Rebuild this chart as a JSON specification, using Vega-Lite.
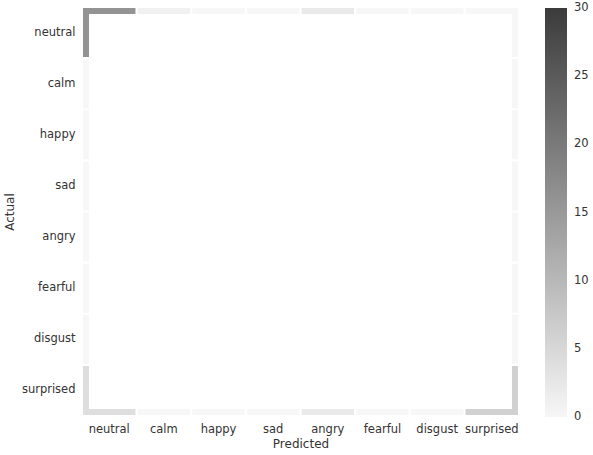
{
  "$schema": "https://vega.github.io/schema/vega-lite/v6.json",
  "width": 435,
  "height": 407,
  "autosize": "none",
  "padding": {"left": 83, "top": 8, "right": 75, "bottom": 40},
  "background": "white",
  "config": {
    "view": {"stroke": null},
    "font": "DejaVu Sans",
    "axis": {
      "domain": false,
      "ticks": false,
      "grid": false,
      "labelFont": "DejaVu Sans",
      "labelFontSize": 11.5,
      "labelColor": "#333333",
      "titleFont": "DejaVu Sans",
      "titleFontSize": 12,
      "titleFontWeight": "normal",
      "titleColor": "#333333",
      "labelPadding": 8
    },
    "legend": {
      "labelFont": "DejaVu Sans",
      "labelFontSize": 11.5,
      "labelColor": "#333333"
    }
  },
  "data": {
    "values": [
      {"Actual": "neutral", "Predicted": "neutral", "count": 16},
      {"Actual": "neutral", "Predicted": "calm", "count": 1},
      {"Actual": "neutral", "Predicted": "happy", "count": 0},
      {"Actual": "neutral", "Predicted": "sad", "count": 0},
      {"Actual": "neutral", "Predicted": "angry", "count": 2},
      {"Actual": "neutral", "Predicted": "fearful", "count": 0},
      {"Actual": "neutral", "Predicted": "disgust", "count": 0},
      {"Actual": "neutral", "Predicted": "surprised", "count": 0},
      {"Actual": "calm", "Predicted": "neutral", "count": 0},
      {"Actual": "calm", "Predicted": "calm", "count": 30},
      {"Actual": "calm", "Predicted": "happy", "count": 1},
      {"Actual": "calm", "Predicted": "sad", "count": 2},
      {"Actual": "calm", "Predicted": "angry", "count": 0},
      {"Actual": "calm", "Predicted": "fearful", "count": 1},
      {"Actual": "calm", "Predicted": "disgust", "count": 0},
      {"Actual": "calm", "Predicted": "surprised", "count": 0},
      {"Actual": "happy", "Predicted": "neutral", "count": 0},
      {"Actual": "happy", "Predicted": "calm", "count": 2},
      {"Actual": "happy", "Predicted": "happy", "count": 20},
      {"Actual": "happy", "Predicted": "sad", "count": 3},
      {"Actual": "happy", "Predicted": "angry", "count": 2},
      {"Actual": "happy", "Predicted": "fearful", "count": 1},
      {"Actual": "happy", "Predicted": "disgust", "count": 1},
      {"Actual": "happy", "Predicted": "surprised", "count": 0},
      {"Actual": "sad", "Predicted": "neutral", "count": 0},
      {"Actual": "sad", "Predicted": "calm", "count": 4},
      {"Actual": "sad", "Predicted": "happy", "count": 2},
      {"Actual": "sad", "Predicted": "sad", "count": 18},
      {"Actual": "sad", "Predicted": "angry", "count": 1},
      {"Actual": "sad", "Predicted": "fearful", "count": 3},
      {"Actual": "sad", "Predicted": "disgust", "count": 1},
      {"Actual": "sad", "Predicted": "surprised", "count": 0},
      {"Actual": "angry", "Predicted": "neutral", "count": 0},
      {"Actual": "angry", "Predicted": "calm", "count": 0},
      {"Actual": "angry", "Predicted": "happy", "count": 2},
      {"Actual": "angry", "Predicted": "sad", "count": 1},
      {"Actual": "angry", "Predicted": "angry", "count": 24},
      {"Actual": "angry", "Predicted": "fearful", "count": 1},
      {"Actual": "angry", "Predicted": "disgust", "count": 2},
      {"Actual": "angry", "Predicted": "surprised", "count": 0},
      {"Actual": "fearful", "Predicted": "neutral", "count": 0},
      {"Actual": "fearful", "Predicted": "calm", "count": 1},
      {"Actual": "fearful", "Predicted": "happy", "count": 3},
      {"Actual": "fearful", "Predicted": "sad", "count": 4},
      {"Actual": "fearful", "Predicted": "angry", "count": 1},
      {"Actual": "fearful", "Predicted": "fearful", "count": 20},
      {"Actual": "fearful", "Predicted": "disgust", "count": 1},
      {"Actual": "fearful", "Predicted": "surprised", "count": 0},
      {"Actual": "disgust", "Predicted": "neutral", "count": 0},
      {"Actual": "disgust", "Predicted": "calm", "count": 2},
      {"Actual": "disgust", "Predicted": "happy", "count": 1},
      {"Actual": "disgust", "Predicted": "sad", "count": 2},
      {"Actual": "disgust", "Predicted": "angry", "count": 3},
      {"Actual": "disgust", "Predicted": "fearful", "count": 1},
      {"Actual": "disgust", "Predicted": "disgust", "count": 21},
      {"Actual": "disgust", "Predicted": "surprised", "count": 0},
      {"Actual": "surprised", "Predicted": "neutral", "count": 4},
      {"Actual": "surprised", "Predicted": "calm", "count": 0},
      {"Actual": "surprised", "Predicted": "happy", "count": 0},
      {"Actual": "surprised", "Predicted": "sad", "count": 0},
      {"Actual": "surprised", "Predicted": "angry", "count": 2},
      {"Actual": "surprised", "Predicted": "fearful", "count": 0},
      {"Actual": "surprised", "Predicted": "disgust", "count": 0},
      {"Actual": "surprised", "Predicted": "surprised", "count": 6}
    ]
  },
  "layer": [
    {
      "mark": {"type": "rect"},
      "encoding": {
        "x": {
          "field": "Predicted",
          "type": "nominal",
          "sort": ["neutral", "calm", "happy", "sad", "angry", "fearful", "disgust", "surprised"],
          "scale": {"paddingInner": 0.04, "paddingOuter": 0},
          "axis": {"title": "Predicted", "labelAngle": 0, "titlePadding": 4}
        },
        "y": {
          "field": "Actual",
          "type": "nominal",
          "sort": ["neutral", "calm", "happy", "sad", "angry", "fearful", "disgust", "surprised"],
          "scale": {"paddingInner": 0.04, "paddingOuter": 0},
          "axis": {"title": "Actual", "titlePadding": 5}
        },
        "color": {
          "field": "count",
          "type": "quantitative",
          "scale": {"domain": [0, 30], "range": ["#f7f7f7", "#3b3b3b"], "interpolate": "rgb"},
          "legend": {
            "title": null,
            "orient": "right",
            "direction": "vertical",
            "offset": 27,
            "padding": 0,
            "gradientLength": 409,
            "gradientThickness": 22,
            "gradientStrokeWidth": 0,
            "values": [0, 5, 10, 15, 20, 25, 30],
            "labelOverlap": false,
            "labelOffset": 7,
            "labelBaseline": "middle",
            "encode": {"labels": {"update": {"baseline": {"value": "middle"}}}}
          }
        }
      }
    },
    {
      "mark": {"type": "rect", "color": "white", "stroke": "white", "strokeWidth": 2},
      "encoding": {
        "x": {
          "field": "Predicted",
          "type": "nominal",
          "sort": ["neutral", "calm", "happy", "sad", "angry", "fearful", "disgust", "surprised"],
          "scale": {"paddingInner": 0, "paddingOuter": 0.133},
          "axis": null
        },
        "y": {
          "field": "Actual",
          "type": "nominal",
          "sort": ["neutral", "calm", "happy", "sad", "angry", "fearful", "disgust", "surprised"],
          "scale": {"paddingInner": 0, "paddingOuter": 0.1425},
          "axis": null
        }
      }
    }
  ],
  "resolve": {"scale": {"x": "independent", "y": "independent", "color": "independent"}}
}
